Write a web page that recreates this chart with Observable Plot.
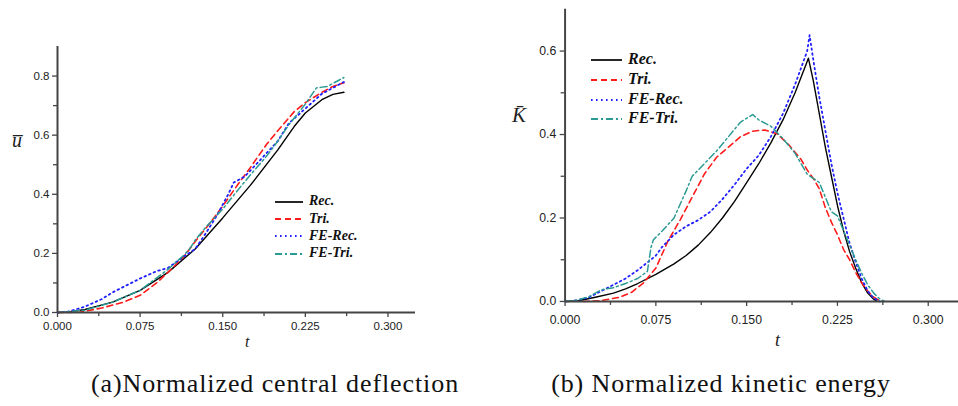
<!DOCTYPE html>
<html><head><meta charset="utf-8">
<script src="https://cdn.jsdelivr.net/npm/d3@7"></script>
<script src="https://cdn.jsdelivr.net/npm/@observablehq/plot@0.6"></script>
<style>
html,body{margin:0;padding:0;background:#fff;overflow:hidden}
#wrap{position:relative;width:958px;height:406px;overflow:hidden;background:#fff}
.panel{position:absolute;top:0}
.cap{position:absolute;font-family:"Liberation Serif",serif;font-size:26px;letter-spacing:0.9px;color:#111;white-space:nowrap;transform:translateX(-50%)}
.leg{position:absolute;font-family:"Liberation Serif",serif;font-weight:bold;font-style:italic;color:#111}
.ylab{position:absolute;font-family:"Liberation Serif",serif;font-style:italic;color:#222}
</style></head>
<body><div id="wrap"></div>
<script>
// ---------- data ----------
const seriesNames = ["Rec.", "Tri.", "FE-Rec.", "FE-Tri."];
const xTicks = [0, 0.075, 0.15, 0.225, 0.3];
const xMinor = [0.0375, 0.1125, 0.1875, 0.2625];
const yTicksA = [0, 0.2, 0.4, 0.6, 0.8];
const yMinorA = [0.1, 0.3, 0.5, 0.7];
const yTicksB = [0, 0.2, 0.4, 0.6];
const yMinorB = [0.1, 0.3, 0.5];
const captions = ["(a)Normalized central deflection", "(b) Normalized kinetic energy"];

// Panel (a): normalized central deflection u
const aRecT = [0,0.01,0.025,0.05,0.075,0.1,0.125,0.15,0.175,0.2,0.215,0.225,0.24,0.25,0.26];
const aRecV = [0,0.002,0.01,0.035,0.075,0.135,0.215,0.32,0.43,0.55,0.63,0.675,0.72,0.738,0.745];
const aTriT = [0,0.02,0.04,0.06,0.075,0.09,0.1,0.115,0.125,0.14,0.15,0.165,0.175,0.19,0.2,0.215,0.225,0.24,0.25,0.26];
const aTriV = [0,0.001,0.015,0.035,0.058,0.1,0.135,0.19,0.24,0.31,0.36,0.44,0.49,0.57,0.615,0.68,0.71,0.745,0.765,0.777];
const aFeRecT = [0,0.01,0.025,0.04,0.05,0.075,0.09,0.1,0.115,0.125,0.135,0.145,0.155,0.16,0.17,0.18,0.19,0.2,0.21,0.225,0.24,0.25,0.26];
const aFeRecV = [0,0.003,0.02,0.045,0.068,0.115,0.14,0.15,0.19,0.215,0.27,0.33,0.4,0.44,0.46,0.5,0.54,0.58,0.64,0.69,0.74,0.76,0.78];
const aFeTriT = [0,0.025,0.05,0.075,0.1,0.115,0.12,0.125,0.135,0.15,0.165,0.175,0.19,0.2,0.21,0.225,0.235,0.245,0.255,0.26];
const aFeTriV = [0,0.008,0.035,0.075,0.145,0.195,0.215,0.245,0.29,0.35,0.42,0.465,0.53,0.58,0.635,0.705,0.76,0.765,0.785,0.795];

// Panel (b): normalized kinetic energy K
const bRecT = [0,0.01,0.025,0.04,0.05,0.06,0.075,0.09,0.1,0.11,0.12,0.13,0.14,0.15,0.16,0.17,0.18,0.19,0.2,0.201,0.205,0.21,0.215,0.22,0.225,0.23,0.235,0.24,0.245,0.25,0.255,0.258];
const bRecV = [0,0.001,0.01,0.02,0.03,0.043,0.065,0.09,0.11,0.135,0.165,0.2,0.24,0.285,0.33,0.38,0.435,0.5,0.575,0.583,0.53,0.45,0.37,0.3,0.23,0.17,0.12,0.08,0.045,0.02,0.005,0];
const bTriT = [0.015,0.03,0.045,0.055,0.065,0.075,0.085,0.095,0.105,0.115,0.125,0.135,0.145,0.155,0.165,0.175,0.185,0.195,0.2,0.205,0.21,0.215,0.22,0.225,0.23,0.235,0.24,0.245,0.25,0.255,0.261];
const bTriV = [0,0.002,0.01,0.022,0.045,0.08,0.145,0.195,0.25,0.305,0.345,0.37,0.395,0.408,0.411,0.402,0.375,0.34,0.315,0.295,0.27,0.225,0.19,0.16,0.125,0.1,0.07,0.045,0.025,0.01,0];
const bFeRecT = [0,0.01,0.02,0.03,0.04,0.05,0.06,0.07,0.075,0.08,0.09,0.1,0.11,0.12,0.13,0.14,0.15,0.16,0.17,0.18,0.19,0.2,0.202,0.205,0.21,0.215,0.22,0.225,0.23,0.235,0.24,0.245,0.25,0.255,0.26];
const bFeRecV = [0,0.003,0.01,0.025,0.04,0.055,0.075,0.098,0.11,0.13,0.16,0.18,0.195,0.215,0.245,0.28,0.318,0.35,0.395,0.45,0.52,0.6,0.638,0.58,0.49,0.41,0.33,0.26,0.2,0.14,0.095,0.055,0.025,0.008,0];
const bFeTriT = [0,0.01,0.02,0.03,0.04,0.05,0.06,0.068,0.071,0.073,0.08,0.09,0.1,0.105,0.115,0.125,0.135,0.145,0.155,0.16,0.17,0.18,0.19,0.2,0.205,0.21,0.215,0.22,0.225,0.23,0.235,0.24,0.245,0.25,0.255,0.26,0.264];
const bFeTriV = [0,0.003,0.012,0.028,0.033,0.043,0.055,0.072,0.13,0.148,0.168,0.2,0.265,0.3,0.33,0.36,0.395,0.43,0.448,0.435,0.42,0.39,0.355,0.305,0.295,0.285,0.25,0.215,0.205,0.17,0.135,0.1,0.068,0.04,0.02,0.006,0];

// ---------- styles ----------
const styles = [
  {stroke: "#000000", dash: null, width: 1.4},
  {stroke: "#ff1a1a", dash: "6,4", width: 1.6},
  {stroke: "#2020ff", dash: "1.6,3.4", width: 1.8},
  {stroke: "#2a9a92", dash: "7,3,2,3", width: 1.5}
];

function rows(names, ts, vs) {
  const out = [];
  names.forEach((n, i) => ts[i].forEach((t, j) => out.push({s: n, t, v: vs[i][j]})));
  return out;
}

function lineMarks(data) {
  return seriesNames.map((n, i) => Plot.line(data.filter(d => d.s === n), {
    x: "t", y: "v", stroke: styles[i].stroke, strokeWidth: styles[i].width,
    strokeDasharray: styles[i].dash, curve: "linear"
  }));
}

function panel(opts) {
  const axisColor = "#444";
  return Plot.plot({
    width: opts.width, height: 406,
    marginLeft: opts.ml, marginRight: opts.mr, marginTop: opts.mt, marginBottom: opts.mb,
    style: {background: "transparent", fontFamily: "Arial, 'Liberation Sans', sans-serif", fontSize: opts.fs + "px", color: "#222"},
    x: {domain: [0, 0.325]},
    y: {domain: opts.ydom},
    marks: [
      Plot.axisX({ticks: xTicks, tickFormat: d3.format(".3f"), tickSize: 5, tickPadding: opts.xpad, stroke: axisColor, strokeWidth: 1.3, label: null, fill: "#222"}),
      Plot.axisX({ticks: xMinor, tickFormat: () => "", tickSize: 4, stroke: axisColor, strokeWidth: 1.3, label: null}),
      Plot.axisY({ticks: opts.yt, tickFormat: d3.format(".1f"), tickSize: 5, tickPadding: opts.ypad, stroke: axisColor, strokeWidth: 1.3, label: null, fill: "#222"}),
      Plot.axisY({ticks: opts.ym, tickFormat: () => "", tickSize: 4, stroke: axisColor, strokeWidth: 1.3, label: null}),
      ...lineMarks(opts.data),
      Plot.ruleY([0], {stroke: axisColor, strokeWidth: 2}),
      Plot.ruleX([0], {stroke: axisColor, strokeWidth: 2})
    ]
  });
}

const wrap = document.getElementById("wrap");

const dataA = rows(seriesNames, [aRecT, aTriT, aFeRecT, aFeTriT], [aRecV, aTriV, aFeRecV, aFeTriV]);
const dataB = rows(seriesNames, [bRecT, bTriT, bFeRecT, bFeTriT], [bRecV, bTriV, bFeRecV, bFeTriV]);

const pa = panel({width: 480, ml: 57, mr: 65, mt: 46, mb: 94, ydom: [0, 0.9], yt: yTicksA, ym: yMinorA, data: dataA, fs: 11.5, xpad: 4, ypad: 3});
const da = document.createElement("div"); da.className = "panel"; da.style.left = "0px"; da.appendChild(pa); wrap.appendChild(da);

const pb = panel({width: 486, ml: 86, mr: 0, mt: 9, mb: 100, ydom: [0, 0.7], yt: yTicksB, ym: yMinorB, data: dataB, fs: 12.5, xpad: 9, ypad: 4});
const db = document.createElement("div"); db.className = "panel"; db.style.left = "480px"; db.appendChild(pb); wrap.appendChild(db);

// axis labels
function addText(cls, txt, left, top, size, extra) {
  const el = document.createElement("div");
  el.className = cls; el.textContent = txt;
  el.style.left = left + "px"; el.style.top = top + "px"; el.style.fontSize = size + "px";
  if (extra) Object.assign(el.style, extra);
  wrap.appendChild(el); return el;
}
addText("ylab", "u\u0305", 12, 129, 20);
addText("ylab", "K\u0304", 512, 103, 21);
addText("ylab", "t", 245, 333, 16);
addText("ylab", "t", 775, 330, 18);

// legends
function legend(x0, y0, lineW, gap, step, size) {
  seriesNames.forEach((n, i) => {
    const svgNS = "http://www.w3.org/2000/svg";
    const svg = document.createElementNS(svgNS, "svg");
    svg.setAttribute("width", lineW); svg.setAttribute("height", 6);
    svg.style.position = "absolute"; svg.style.left = x0 + "px"; svg.style.top = (y0 + i * step - 3) + "px";
    const ln = document.createElementNS(svgNS, "line");
    ln.setAttribute("x1", 0); ln.setAttribute("x2", lineW); ln.setAttribute("y1", 3); ln.setAttribute("y2", 3);
    ln.setAttribute("stroke", styles[i].stroke); ln.setAttribute("stroke-width", styles[i].width + 0.3);
    if (styles[i].dash) ln.setAttribute("stroke-dasharray", styles[i].dash);
    svg.appendChild(ln); wrap.appendChild(svg);
    addText("leg", n, x0 + lineW + gap, y0 + i * step - size * 0.62, size);
  });
}
legend(275, 202, 28, 6, 17.2, 14);
legend(591, 60, 31, 6, 19.8, 16);

// captions
addText("cap", captions[0], 275, 369, 26);
addText("cap", captions[1], 721, 369, 26);
</script></body></html>
